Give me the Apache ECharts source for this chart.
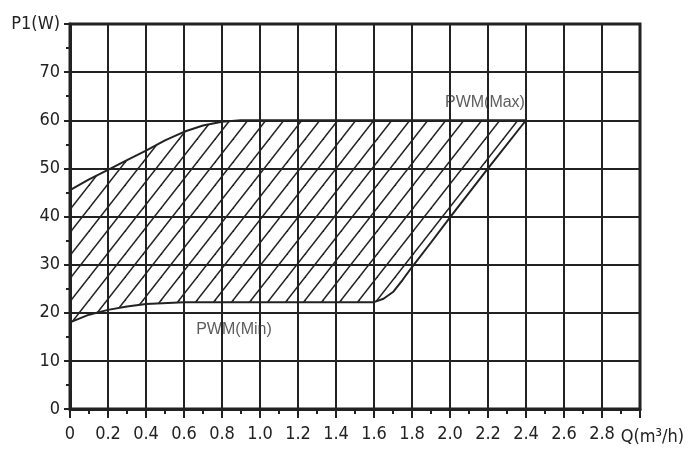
<!DOCTYPE html>
<html>
<head>
<meta charset="utf-8">
<script src="https://cdn.jsdelivr.net/npm/echarts@6/dist/echarts.min.js"></script>
<style>
html, body { margin: 0; padding: 0; background: #fff; }
#chart { width: 697px; height: 451px; }
</style>
</head>
<body>
<div id="chart"></div>
<script>
// curves: [Q (m3/h), P1 (W)]
const maxCurve = [[0, 45.5], [0.1, 47.7], [0.2, 49.7], [0.3, 51.7], [0.4, 53.7], [0.5, 55.8], [0.6, 57.6], [0.7, 58.9], [0.8, 59.7], [0.9, 60], [2.4, 60]];
const minCurve = [[0, 18], [0.1, 19.6], [0.2, 20.6], [0.3, 21.3], [0.4, 21.8], [0.6, 22.2], [1.6, 22.2], [1.65, 22.9], [1.7, 24.3], [1.75, 26.8], [1.8, 29.5], [1.9, 34.6], [2.0, 39.8], [2.2, 50], [2.4, 60]];
const curveLabels = [
    { name: 'PWM(Max)', value: [2.184, 63.6] },
    { name: 'PWM(Min)', value: [0.863, 16.4] }
];
const yTop = 80;
const xEnd = 3.0;

const ink = '#222';
const axisFont = '"Liberation Sans Narrow", "DejaVu Sans Condensed", "Liberation Sans", sans-serif';

// diagonal hatch tile
const makeHatch = (w, h)=>{
    let c = document.createElement('canvas');
    c.width = w;
    c.height = h;
    let ctx = c.getContext('2d');
    ctx.strokeStyle = ink;
    ctx.lineWidth = 1.5;
    [-w, 0, w].forEach((dx)=>{
        ctx.beginPath();
        ctx.moveTo(dx - w, 2 * h);
        ctx.lineTo(dx + 2 * w, -h);
        ctx.stroke();
    });
    return c;
};
const hatch = makeHatch(18, 23);

let chart = echarts.init(document.getElementById('chart'), null, { renderer: 'canvas' });
chart.setOption({
    backgroundColor: '#fff',
    animation: false,
    grid: {
        left: 70,
        right: 57,
        top: 24,
        bottom: 42,
        show: true,
        borderColor: ink,
        borderWidth: 3,
        backgroundColor: 'transparent'
    },
    xAxis: {
        type: 'value',
        min: 0,
        max: xEnd,
        interval: 0.2,
        name: 'Q(m³/h)',
        nameLocation: 'end',
        nameGap: -21,
        nameTextStyle: {
            color: ink,
            fontSize: 18,
            fontFamily: axisFont,
            verticalAlign: 'top',
            padding: [19, 0, 0, 0]
        },
        axisLine: { show: true, lineStyle: { color: ink, width: 3 } },
        axisTick: { show: true, length: 9, lineStyle: { color: ink, width: 2 } },
        minorTick: { show: true, splitNumber: 2, length: 5, lineStyle: { color: ink, width: 2 } },
        splitLine: { show: true, lineStyle: { color: ink, width: 2 } },
        axisLabel: {
            color: ink,
            fontSize: 18,
            fontFamily: axisFont,
            margin: 16,
            formatter: (v)=>{
                if (Math.abs(v - xEnd) < 1e-6) return '';
                return v === 0 ? '0' : v.toFixed(1);
            }
        }
    },
    yAxis: {
        type: 'value',
        min: 0,
        max: yTop,
        interval: 10,
        axisLine: { show: true, lineStyle: { color: ink, width: 3 } },
        axisTick: { show: true, length: 6, lineStyle: { color: ink, width: 2 } },
        minorTick: { show: true, splitNumber: 2, length: 4, lineStyle: { color: ink, width: 2 } },
        splitLine: { show: true, lineStyle: { color: ink, width: 2 } },
        axisLabel: {
            color: ink,
            fontSize: 18,
            fontFamily: axisFont,
            margin: 10,
            formatter: (v)=>{
                return v === yTop ? 'P1(W)' : String(v);
            }
        }
    },
    series: [
        {
            type: 'custom',
            name: 'band',
            coordinateSystem: 'cartesian2d',
            data: [[0, 0]],
            clip: true,
            z: 1,
            silent: true,
            renderItem: (params, api)=>{
                let pts = maxCurve.map((p)=>api.coord(p));
                minCurve.slice().reverse().forEach((p)=>{
                    pts.push(api.coord(p));
                });
                return {
                    type: 'polygon',
                    shape: { points: pts },
                    style: { fill: { image: hatch, repeat: 'repeat' }, stroke: null }
                };
            }
        },
        {
            type: 'line',
            name: 'PWM(Max)',
            data: maxCurve,
            symbol: 'none',
            smooth: false,
            z: 3,
            lineStyle: { color: ink, width: 2 }
        },
        {
            type: 'line',
            name: 'PWM(Min)',
            data: minCurve,
            symbol: 'none',
            smooth: false,
            z: 3,
            lineStyle: { color: ink, width: 2 }
        },
        {
            type: 'scatter',
            name: 'labels',
            data: curveLabels,
            symbolSize: 1,
            z: 4,
            itemStyle: { color: 'rgba(0,0,0,0)' },
            label: {
                show: true,
                position: 'inside',
                formatter: (p)=>p.name,
                color: '#333',
                fontSize: 16,
                fontFamily: '"Liberation Sans", Arial, sans-serif'
            }
        }
    ]
});
</script>
</body>
</html>
